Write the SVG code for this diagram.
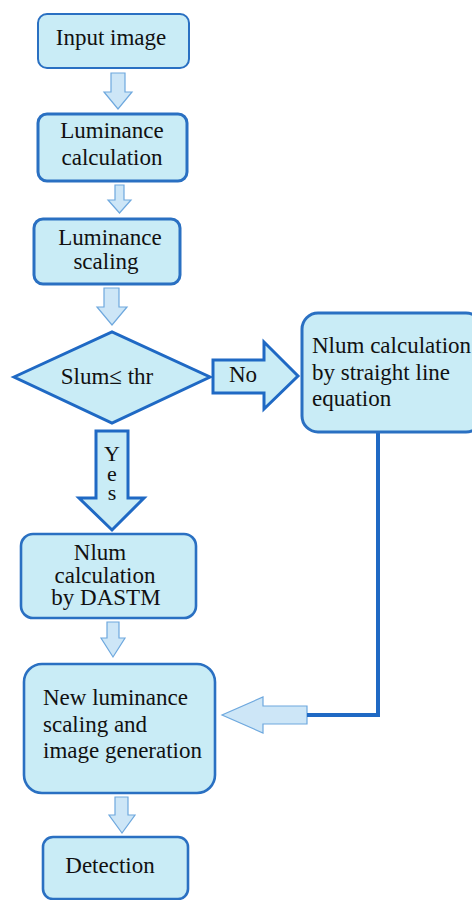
<svg xmlns="http://www.w3.org/2000/svg" width="472" height="900" viewBox="0 0 472 900">
<rect width="472" height="900" fill="#fff"/>
<g id="connectors">
<g fill="#cde6f7" stroke="#6ea8de" stroke-width="1.2">
<polygon points="111,73 125,73 125,92 132,92 118,109 104,92 111,92"/>
<polygon points="115,185 124,185 124,200 131,200 119.5,213 108,200 115,200"/>
<polygon points="104,288 119,288 119,307 127,307 112,325 97,307 104,307"/>
<polygon points="107,622 119,622 119,638 125,638 113,657 101,638 107,638"/>
<polygon points="307,706 263,706 263,697 222,715 263,733 263,724 307,724"/>
<polygon points="115,797 128,797 128,815 135,815 122,833 109,815 115,815"/>
</g>
<g fill="#c9ecf6" stroke="#1f69c4" stroke-width="3">
<polygon points="213,360 264,360 264,342 298,376 264,409 264,393 213,393"/>
<polygon points="96,431 128,431 128,498 144,498 112,530 79,498 96,498"/>
</g>
<polyline points="378,432 378,715 307,715" fill="none" stroke="#1f69c4" stroke-width="4"/>
<text x="243" y="382" style="font-family:'Liberation Serif',serif !important;font-size:23px;text-anchor:middle;fill:#111">No</text>
<text x="112" y="461" style="font-family:'Liberation Serif',serif !important;font-size:22px;text-anchor:middle;fill:#111">Y</text>
<text x="112" y="481" style="font-family:'Liberation Serif',serif !important;font-size:22px;text-anchor:middle;fill:#111">e</text>
<text x="112" y="500" style="font-family:'Liberation Serif',serif !important;font-size:22px;text-anchor:middle;fill:#111">s</text>
</g>
<g id="input">
<rect x="38" y="14" width="151" height="54" rx="9" fill="#c9ecf6" stroke="#2a70c2" stroke-width="2"/>
<text x="111" y="45" style="font-family:'Liberation Serif',serif !important;font-size:23px;text-anchor:middle;fill:#111">Input image</text>
</g>
<g id="lumcalc">
<rect x="38" y="114" width="149" height="67" rx="9" fill="#c9ecf6" stroke="#2a70c2" stroke-width="3"/>
<text x="112" y="138" style="font-family:'Liberation Serif',serif !important;font-size:23px;text-anchor:middle;fill:#111">Luminance</text>
<text x="112" y="165" style="font-family:'Liberation Serif',serif !important;font-size:23px;text-anchor:middle;fill:#111">calculation</text>
</g>
<g id="lumscale">
<rect x="34" y="219" width="146" height="65" rx="9" fill="#c9ecf6" stroke="#2a70c2" stroke-width="3"/>
<text x="110" y="245" style="font-family:'Liberation Serif',serif !important;font-size:23px;text-anchor:middle;fill:#111">Luminance</text>
<text x="106" y="269" style="font-family:'Liberation Serif',serif !important;font-size:23px;text-anchor:middle;fill:#111">scaling</text>
</g>
<g id="decision">
<polygon points="14,377 112,332 210,377 112,423" fill="#c9ecf6" stroke="#1f69c4" stroke-width="3"/>
<text x="107" y="384" style="font-family:'Liberation Serif',serif !important;font-size:23px;text-anchor:middle;fill:#111">Slum≤ thr</text>
</g>
<g id="straight">
<rect x="302" y="313" width="180" height="119" rx="16" fill="#c9ecf6" stroke="#2a70c2" stroke-width="3"/>
<text x="312" y="353" style="font-family:'Liberation Serif',serif !important;font-size:23px;fill:#111">Nlum calculation</text>
<text x="312" y="380" style="font-family:'Liberation Serif',serif !important;font-size:23px;fill:#111">by straight line</text>
<text x="312" y="406" style="font-family:'Liberation Serif',serif !important;font-size:23px;fill:#111">equation</text>
</g>
<g id="dastm">
<rect x="21" y="534" width="175" height="84" rx="12" fill="#c9ecf6" stroke="#2a70c2" stroke-width="2.6"/>
<text x="100" y="560" style="font-family:'Liberation Serif',serif !important;font-size:23px;text-anchor:middle;fill:#111">Nlum</text>
<text x="105" y="583" style="font-family:'Liberation Serif',serif !important;font-size:23px;text-anchor:middle;fill:#111">calculation</text>
<text x="106" y="605" style="font-family:'Liberation Serif',serif !important;font-size:23px;text-anchor:middle;fill:#111">by DASTM</text>
</g>
<g id="newlum">
<rect x="24" y="664" width="191" height="129" rx="18" fill="#c9ecf6" stroke="#2a70c2" stroke-width="2.6"/>
<text x="43" y="705" style="font-family:'Liberation Serif',serif !important;font-size:23px;fill:#111">New luminance</text>
<text x="43" y="732" style="font-family:'Liberation Serif',serif !important;font-size:23px;fill:#111">scaling and</text>
<text x="43" y="758" style="font-family:'Liberation Serif',serif !important;font-size:23px;fill:#111">image generation</text>
</g>
<g id="detection">
<rect x="43" y="837" width="145" height="62" rx="10" fill="#c9ecf6" stroke="#2a70c2" stroke-width="2.6"/>
<text x="110" y="873" style="font-family:'Liberation Serif',serif !important;font-size:23px;text-anchor:middle;fill:#111">Detection</text>
</g>
</svg>
